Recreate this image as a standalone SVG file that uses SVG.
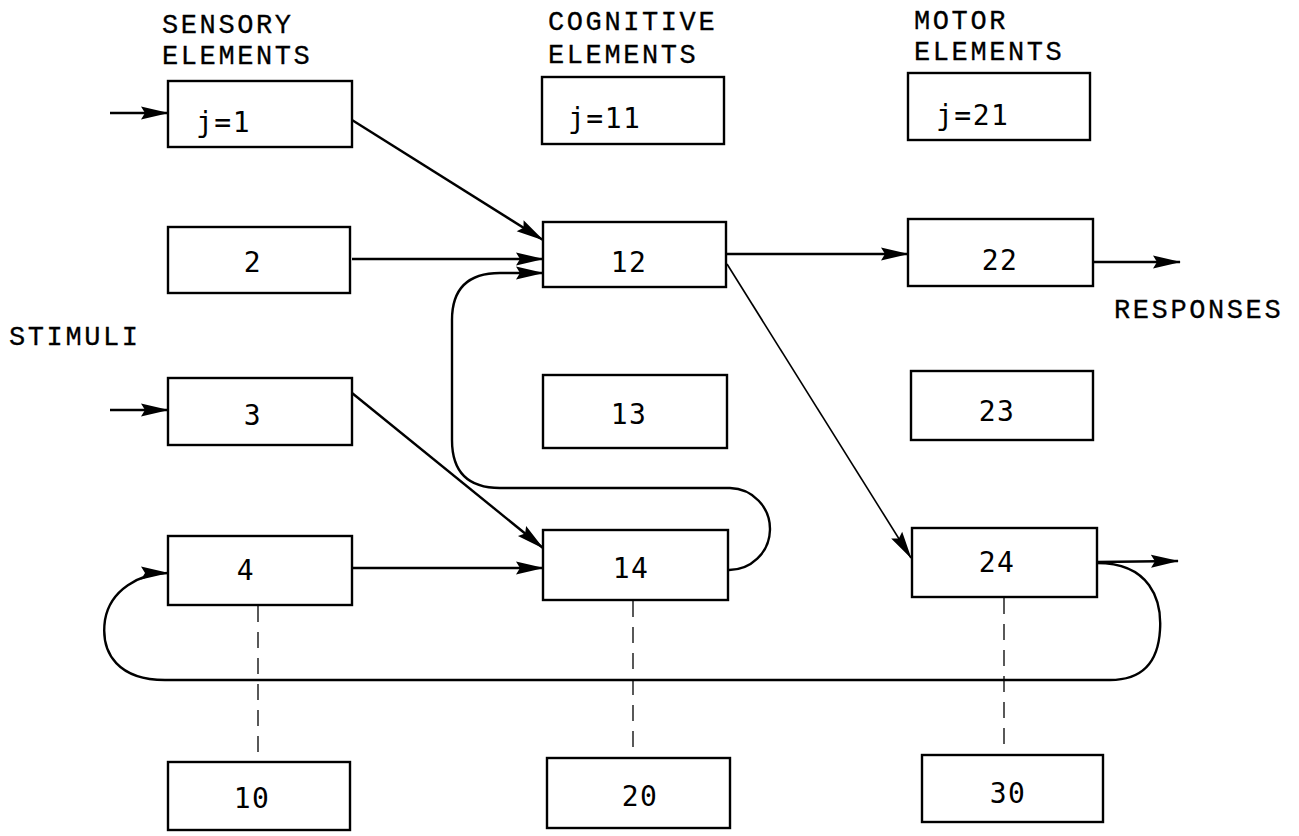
<svg xmlns="http://www.w3.org/2000/svg" width="1299" height="836" viewBox="0 0 1299 836">
  <style>
    .box { fill: #fff; stroke: #000; stroke-width: 2.4; }
    .hdr { font-family: "Liberation Mono", "DejaVu Sans Mono", monospace; font-size: 27px; letter-spacing: 2.6px; fill: #000; stroke: #000; stroke-width: 0.3; }
    .lbl { font-family: "DejaVu Sans Mono", "Liberation Mono", monospace; font-size: 28px; letter-spacing: 1.5px; fill: #000; text-anchor: middle; }
    .jl { font-family: "DejaVu Sans Mono", "Liberation Mono", monospace; font-size: 28px; letter-spacing: 1.5px; fill: #000; }
    .ln { fill: none; stroke: #000; stroke-width: 2.4; }
    .thin { fill: none; stroke: #000; stroke-width: 1.6; }
    .dash { fill: none; stroke: #000; stroke-width: 1.3; stroke-dasharray: 16 10; }
  </style>
  <defs>
    <marker id="arr" viewBox="0 0 28 16" refX="27" refY="8" markerWidth="28" markerHeight="16" markerUnits="userSpaceOnUse" orient="auto">
      <path d="M0,1.5 L28,8 L0,14.5 L4,8 z" fill="#000"/>
    </marker>
  </defs>

  <rect width="1299" height="836" fill="#fff"/>

  <!-- column headings and side labels -->
  <g id="headings">
    <text class="hdr" x="162" y="33">SENSORY</text>
    <text class="hdr" x="162" y="64">ELEMENTS</text>
    <text class="hdr" x="548" y="30">COGNITIVE</text>
    <text class="hdr" x="548" y="63">ELEMENTS</text>
    <text class="hdr" x="914" y="29">MOTOR</text>
    <text class="hdr" x="914" y="60">ELEMENTS</text>
    <text class="hdr" x="9" y="345">STIMULI</text>
    <text class="hdr" x="1114" y="318">RESPONSES</text>
  </g>

  <!-- connectors -->
  <g id="connectors">
    <!-- stimulus inputs -->
    <line class="ln" x1="110" y1="113" x2="168" y2="113" marker-end="url(#arr)"/>
    <line class="ln" x1="110" y1="410" x2="168" y2="410" marker-end="url(#arr)"/>
    <!-- sensory to cognitive -->
    <line class="ln" x1="352" y1="120" x2="543" y2="240" marker-end="url(#arr)"/>
    <line class="ln" x1="352" y1="259" x2="543" y2="259" marker-end="url(#arr)"/>
    <line class="ln" x1="352" y1="393" x2="543" y2="548" marker-end="url(#arr)"/>
    <line class="ln" x1="352" y1="568" x2="543" y2="568" marker-end="url(#arr)"/>
    <!-- feedback 14 -> 12 -->
    <path class="ln" d="M728,570 A41,41 0 0 0 730,488 L500,488 Q452,488 452,440 L452,320 Q452,273 500,273 L543,273" marker-end="url(#arr)"/>
    <!-- cognitive to motor -->
    <line class="ln" x1="726" y1="254" x2="908" y2="254" marker-end="url(#arr)"/>
    <line class="thin" x1="727" y1="264" x2="911" y2="558" marker-end="url(#arr)"/>
    <!-- responses -->
    <line class="ln" x1="1093" y1="262" x2="1180" y2="262" marker-end="url(#arr)"/>
    <line class="ln" x1="1097" y1="562" x2="1178" y2="561" marker-end="url(#arr)"/>
    <!-- feedback 24 -> 4 -->
    <path class="ln" d="M1097,563 C1150,563 1162,600 1160,630 C1158,665 1140,680 1110,680 L165,680 C120,680 100,655 105,620 C110,590 140,573 168,573" marker-end="url(#arr)"/>
    <!-- dashed links to lower elements -->
    <line class="dash" x1="258" y1="606" x2="258" y2="762"/>
    <line class="dash" x1="633" y1="601" x2="633" y2="758"/>
    <line class="dash" x1="1004" y1="598" x2="1004" y2="755"/>
  </g>

  <!-- sensory elements -->
  <g id="s1"><rect class="box" x="168" y="81" width="184" height="66"/><text class="jl" x="196" y="132">j=1</text></g>
  <g id="s2"><rect class="box" x="168" y="227" width="182" height="66"/><text class="lbl" x="253" y="272">2</text></g>
  <g id="s3"><rect class="box" x="168" y="378" width="184" height="67"/><text class="lbl" x="253" y="425">3</text></g>
  <g id="s4"><rect class="box" x="168" y="536" width="184" height="69"/><text class="lbl" x="246" y="580">4</text></g>
  <g id="s10"><rect class="box" x="168" y="762" width="182" height="68"/><text class="lbl" x="252" y="808">10</text></g>

  <!-- cognitive elements -->
  <g id="c11"><rect class="box" x="542" y="77" width="182" height="67"/><text class="jl" x="568" y="128">j=11</text></g>
  <g id="c12"><rect class="box" x="543" y="222" width="183" height="65"/><text class="lbl" x="629" y="272">12</text></g>
  <g id="c13"><rect class="box" x="543" y="375" width="184" height="73"/><text class="lbl" x="629" y="424">13</text></g>
  <g id="c14"><rect class="box" x="543" y="530" width="185" height="70"/><text class="lbl" x="631" y="578">14</text></g>
  <g id="c20"><rect class="box" x="547" y="758" width="183" height="70"/><text class="lbl" x="640" y="806">20</text></g>

  <!-- motor elements -->
  <g id="m21"><rect class="box" x="908" y="73" width="182" height="67"/><text class="jl" x="936" y="125">j=21</text></g>
  <g id="m22"><rect class="box" x="908" y="219" width="185" height="67"/><text class="lbl" x="1000" y="270">22</text></g>
  <g id="m23"><rect class="box" x="911" y="371" width="182" height="69"/><text class="lbl" x="997" y="421">23</text></g>
  <g id="m24"><rect class="box" x="912" y="528" width="185" height="69"/><text class="lbl" x="997" y="572">24</text></g>
  <g id="m30"><rect class="box" x="922" y="755" width="181" height="67"/><text class="lbl" x="1008" y="803">30</text></g>
</svg>
